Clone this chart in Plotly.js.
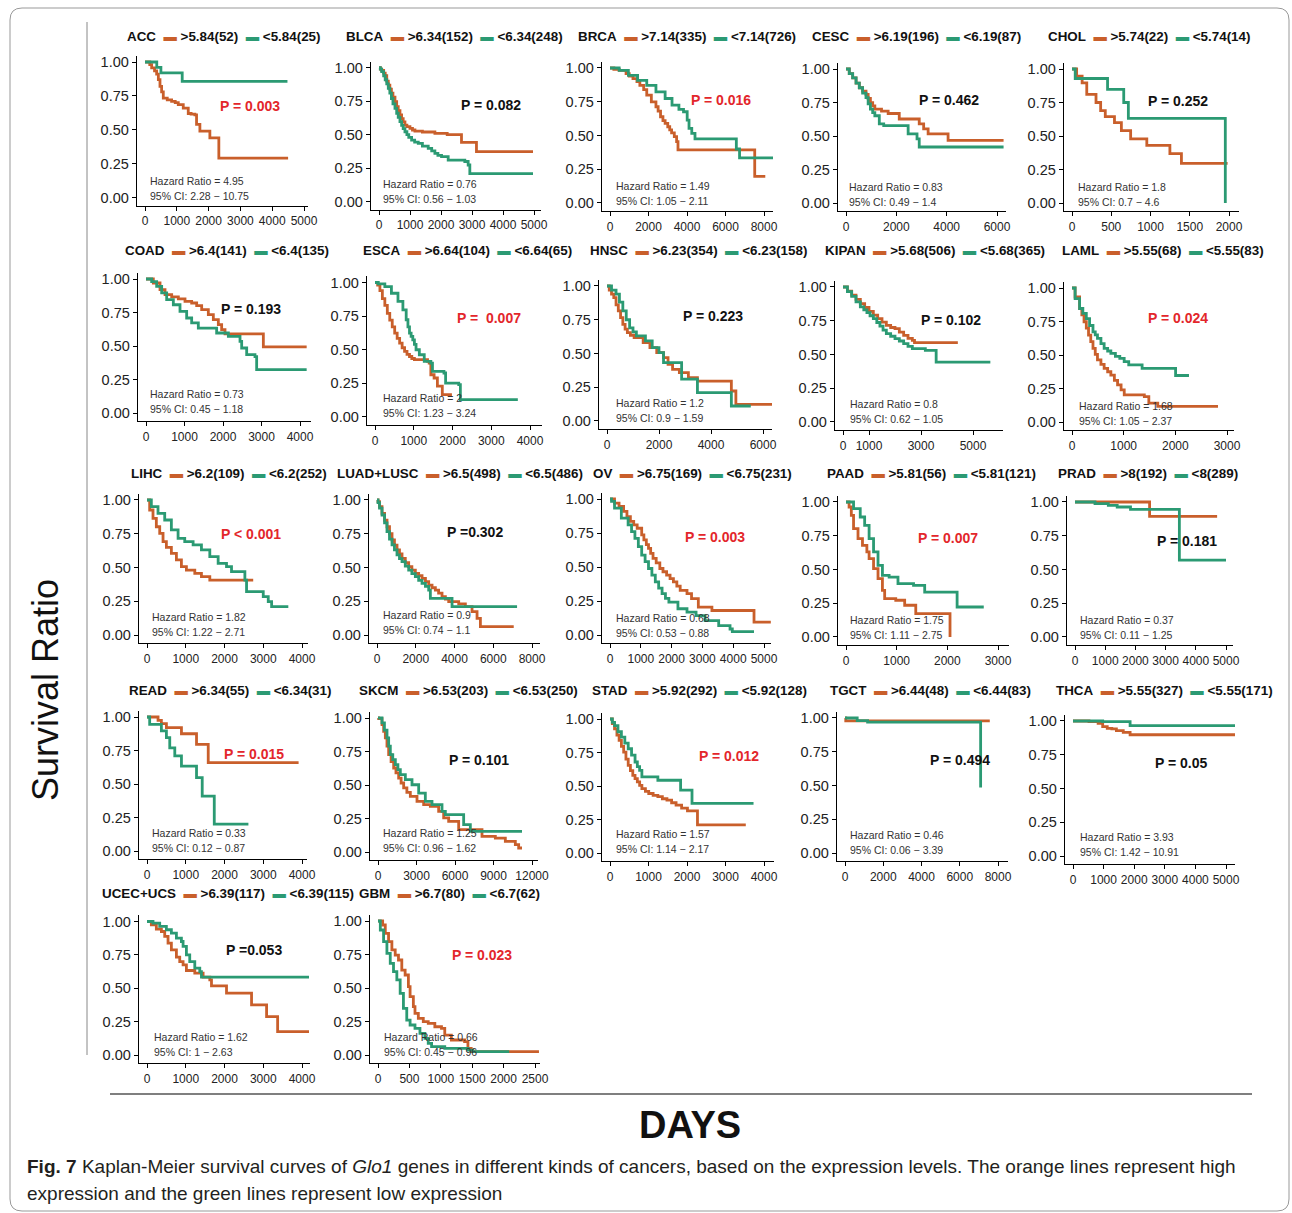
<!DOCTYPE html>
<html><head><meta charset="utf-8">
<script src="https://cdn.plot.ly/plotly-3.0.1.min.js"></script>
<style>html,body{margin:0;padding:0;background:#fff}#chart{width:1292px;height:1213px}</style>
</head><body><div id="chart"></div>
<script>
// ---------------- DATA ----------------
const cancers = ['ACC','BLCA','BRCA','CESC','CHOL','COAD','ESCA','HNSC','KIPAN','LAML','LIHC','LUAD+LUSC','OV','PAAD','PRAD','READ','SKCM','STAD','TGCT','THCA','UCEC+UCS','GBM'];
const cutoffs = ['5.84','6.34','7.14','6.19','5.74','6.4','6.64','6.23','5.68','5.55','6.2','6.5','6.75','5.81','8','6.34','6.53','5.92','6.44','5.55','6.39','6.7'];
const nHigh = [52,152,335,196,22,141,104,354,506,68,109,498,169,56,192,55,203,292,48,327,117,80];
const nLow  = [25,248,726,87,14,135,65,158,365,83,252,486,231,121,289,31,250,128,83,171,115,62];
const pText = ['P = 0.003','P = 0.082','P = 0.016','P = 0.462','P = 0.252','P = 0.193','P =  0.007','P = 0.223','P = 0.102','P = 0.024','P < 0.001','P =0.302','P = 0.003','P = 0.007','P = 0.181','P = 0.015','P = 0.101','P = 0.012','P = 0.494','P = 0.05','P =0.053','P = 0.023'];
const pSignificant = [true,false,true,false,false,false,true,false,false,true,true,false,true,true,false,true,false,true,false,false,false,true];
const hazardRatio = ['4.95','0.76','1.49','0.83','1.8','0.73','2','1.2','0.8','1.68','1.82','0.9','0.68','1.75','0.37','0.33','1.25','1.57','0.46','3.93','1.62','0.66'];
const ciLow  = ['2.28','0.56','1.05','0.49','0.7','0.45','1.23','0.9','0.62','1.05','1.22','0.74','0.53','1.11','0.11','0.12','0.96','1.14','0.06','1.42','1','0.45'];
const ciHigh = ['10.75','1.03','2.11','1.4','4.6','1.18','3.24','1.59','1.05','2.37','2.71','1.1','0.88','2.75','1.25','0.87','1.62','2.17','3.39','10.91','2.63','0.96'];
const xTicks = [
 [0,1000,2000,3000,4000,5000],[0,1000,2000,3000,4000,5000],[0,2000,4000,6000,8000],[0,2000,4000,6000],[0,500,1000,1500,2000],
 [0,1000,2000,3000,4000],[0,1000,2000,3000,4000],[0,2000,4000,6000],[0,1000,3000,5000],[0,1000,2000,3000],
 [0,1000,2000,3000,4000],[0,2000,4000,6000,8000],[0,1000,2000,3000,4000,5000],[0,1000,2000,3000],[0,1000,2000,3000,4000,5000],
 [0,1000,2000,3000,4000],[0,3000,6000,9000,12000],[0,1000,2000,3000,4000],[0,2000,4000,6000,8000],[0,1000,2000,3000,4000,5000],
 [0,1000,2000,3000,4000],[0,500,1000,1500,2000,2500]];
const yTicks = [0,0.25,0.5,0.75,1];
const yTickText = ['0.00','0.25','0.50','0.75','1.00'];

// survival curves: time (days) and survival ratio; hi = orange (high), lo = green (low)
const ACC_hi_t=[0,150,209,300,366,420,471,523,575,700,837,950,1046,1203,1360,1450,1569,1621,1726,2040,2322,4500];
const ACC_hi_s=[1,0.98,0.956,0.935,0.91,0.87,0.82,0.78,0.734,0.72,0.709,0.70,0.685,0.66,0.62,0.615,0.61,0.54,0.49,0.44,0.29,0.29];
const ACC_lo_t=[0,370,500,1170,4480];
const ACC_lo_s=[1,0.96,0.92,0.857,0.857];
const BLCA_hi_t=[0,43,86,150,200,250,300,350,400,450,515,570,620,676,730,780,837,900,998,1080,1159,1400,1803,2200,2661,3144,4968];
const BLCA_hi_s=[1,0.99,0.98,0.96,0.94,0.90,0.87,0.84,0.81,0.78,0.746,0.71,0.68,0.647,0.62,0.595,0.572,0.56,0.547,0.535,0.527,0.52,0.51,0.50,0.443,0.373,0.373];
const BLCA_lo_t=[0,43,86,150,200,250,300,350,400,450,515,570,620,676,730,780,837,900,960,1052,1150,1266,1400,1588,1700,1803,1900,2017,2232,2768,2876,2930,4968];
const BLCA_lo_s=[1,0.99,0.97,0.94,0.91,0.88,0.846,0.81,0.77,0.73,0.697,0.66,0.63,0.597,0.57,0.545,0.522,0.50,0.48,0.46,0.445,0.435,0.415,0.398,0.38,0.36,0.345,0.336,0.311,0.30,0.274,0.21,0.21];
const BRCA_hi_t=[0,200,477,835,1000,1193,1400,1551,1750,1909,2148,2387,2500,2625,2750,2864,3000,3103,3200,3341,3461,3532,7518,8067];
const BRCA_hi_s=[1,0.99,0.983,0.958,0.94,0.921,0.90,0.872,0.84,0.799,0.749,0.713,0.68,0.639,0.61,0.59,0.565,0.541,0.52,0.491,0.455,0.393,0.197,0.197];
const BRCA_lo_t=[0,477,955,1432,1909,2387,2864,3222,3580,3819,4010,4105,4248,4415,6563,6730,8472];
const BRCA_lo_s=[1,0.983,0.946,0.909,0.872,0.823,0.774,0.725,0.693,0.676,0.614,0.553,0.516,0.475,0.40,0.335,0.335];
const CESC_hi_t=[0,130,265,400,529,660,794,880,970,1060,1146,1411,1675,2116,2910,3086,3263,4056,6261];
const CESC_hi_s=[1,0.965,0.934,0.895,0.86,0.835,0.81,0.78,0.749,0.725,0.70,0.685,0.668,0.627,0.59,0.553,0.516,0.467,0.467];
const CESC_lo_t=[0,130,265,400,529,660,794,880,970,1060,1146,1323,1499,2469,2822,2910,6261];
const CESC_lo_s=[1,0.965,0.934,0.895,0.86,0.82,0.786,0.74,0.70,0.675,0.651,0.59,0.577,0.516,0.479,0.418,0.418];
const CHOL_hi_t=[0,59,129,188,306,365,424,541,629,747,953,1247,1394,1982];
const CHOL_hi_s=[1,0.946,0.897,0.81,0.75,0.69,0.644,0.60,0.54,0.479,0.43,0.369,0.295,0.295];
const CHOL_lo_t=[0,41,453,659,718,1953];
const CHOL_lo_s=[1,0.929,0.848,0.75,0.631,0];
const COAD_hi_t=[0,190,364,494,667,840,1013,1186,1316,1446,1619,1749,1879,1965,2052,3048,4173];
const COAD_hi_s=[1,0.97,0.92,0.883,0.866,0.851,0.833,0.821,0.801,0.771,0.734,0.697,0.659,0.622,0.59,0.493,0.493];
const COAD_lo_t=[0,147,277,407,537,710,883,1056,1186,1359,1835,2139,2442,2485,2615,2831,2874,4173];
const COAD_lo_s=[1,0.98,0.945,0.896,0.846,0.808,0.759,0.709,0.672,0.634,0.597,0.572,0.535,0.485,0.435,0.42,0.323,0.323];
const ESCA_hi_t=[0,68,127,190,254,318,381,445,508,572,636,700,763,826,890,950,1017,1356,1398,1441,1525,1610,1737,1949];
const ESCA_hi_s=[1,0.98,0.94,0.88,0.83,0.77,0.72,0.67,0.624,0.585,0.55,0.515,0.488,0.465,0.45,0.435,0.426,0.413,0.40,0.314,0.29,0.23,0.166,0.153];
const ESCA_lo_t=[0,85,254,424,593,720,805,850,890,932,975,1017,1059,1144,1271,1441,1483,1780,1822,2161,2203,3686];
const ESCA_lo_s=[1,0.99,0.97,0.92,0.859,0.797,0.723,0.67,0.624,0.60,0.574,0.54,0.50,0.463,0.413,0.40,0.339,0.327,0.252,0.24,0.129,0.129];
const HNSC_hi_t=[0,87,174,261,348,435,522,609,696,783,900,1043,1391,1652,1913,2174,2348,2522,2783,3130,3478,4783,4957,6348];
const HNSC_hi_s=[1,0.97,0.94,0.914,0.86,0.815,0.765,0.716,0.68,0.654,0.635,0.617,0.58,0.543,0.506,0.469,0.42,0.383,0.358,0.321,0.296,0.222,0.123,0.123];
const HNSC_lo_t=[0,174,348,478,609,740,870,1000,1130,1478,1739,2000,2174,2870,3478,4783,5530];
const HNSC_lo_s=[1,0.97,0.94,0.88,0.815,0.75,0.69,0.66,0.63,0.593,0.543,0.506,0.432,0.31,0.21,0.111,0.111];
const KIPAN_hi_t=[0,170,333,500,667,833,1000,1167,1333,1500,1667,1833,2000,2167,2333,2500,2667,2750,4417];
const KIPAN_hi_s=[1,0.97,0.94,0.908,0.877,0.848,0.82,0.792,0.765,0.74,0.716,0.70,0.691,0.665,0.642,0.62,0.605,0.588,0.588];
const KIPAN_lo_t=[0,170,333,500,667,800,920,1040,1167,1300,1420,1540,1667,1833,2000,2167,2333,2500,2667,3167,3583,5667];
const KIPAN_lo_s=[1,0.965,0.93,0.89,0.852,0.83,0.81,0.787,0.765,0.737,0.71,0.68,0.654,0.635,0.617,0.60,0.58,0.56,0.543,0.531,0.444,0.444];
const LAML_hi_t=[0,60,147,190,233,277,320,363,406,450,493,560,622,690,752,820,882,950,1011,1400,1487,1660,2826];
const LAML_hi_s=[1,0.933,0.847,0.80,0.748,0.70,0.649,0.60,0.55,0.505,0.463,0.43,0.40,0.375,0.35,0.31,0.277,0.24,0.203,0.19,0.141,0.116,0.116];
const LAML_lo_t=[0,60,147,210,277,340,406,450,493,560,622,690,752,840,925,1010,1098,1357,2005,2264];
const LAML_lo_s=[1,0.92,0.847,0.81,0.772,0.72,0.673,0.65,0.624,0.585,0.55,0.53,0.512,0.49,0.475,0.45,0.426,0.40,0.347,0.347];
const LIHC_hi_t=[0,69,155,241,328,414,500,629,759,888,1017,1233,1405,1621,2741];
const LIHC_hi_s=[1,0.926,0.864,0.802,0.753,0.691,0.649,0.605,0.556,0.506,0.481,0.457,0.432,0.407,0.407];
const LIHC_lo_t=[0,112,284,457,629,802,974,1190,1405,1621,1836,2052,2181,2526,2569,3000,3129,3216,3647];
const LIHC_lo_s=[1,0.951,0.901,0.852,0.778,0.716,0.691,0.667,0.63,0.58,0.531,0.506,0.469,0.407,0.321,0.284,0.247,0.21,0.21];
const LUAD_hi_t=[0,52,130,258,390,516,645,775,900,1033,1160,1291,1460,1635,1800,1979,2150,2324,2500,2668,2840,3012,3180,3356,3530,3701,4217,4561,4905,5164,5336,7057];
const LUAD_hi_s=[1,0.988,0.95,0.901,0.85,0.802,0.75,0.704,0.665,0.63,0.60,0.568,0.535,0.506,0.48,0.457,0.44,0.42,0.395,0.37,0.35,0.333,0.31,0.284,0.265,0.247,0.23,0.21,0.173,0.123,0.062,0.062];
const LUAD_lo_t=[0,52,130,258,390,516,645,775,900,1033,1160,1291,1460,1635,1800,1979,2150,2324,2500,2668,2754,3873,7229];
const LUAD_lo_s=[1,0.98,0.94,0.889,0.83,0.765,0.71,0.667,0.63,0.593,0.565,0.543,0.51,0.481,0.455,0.432,0.405,0.383,0.36,0.333,0.272,0.21,0.21];
const OV_hi_t=[0,147,294,441,550,662,770,882,1029,1100,1180,1250,1320,1397,1500,1618,1720,1838,1950,2059,2170,2279,2500,2647,2868,3309,4676,5221];
const OV_hi_s=[1,0.97,0.946,0.909,0.87,0.835,0.81,0.785,0.736,0.70,0.665,0.637,0.60,0.563,0.53,0.489,0.465,0.44,0.415,0.39,0.36,0.328,0.304,0.267,0.205,0.18,0.094,0.094];
const OV_lo_t=[0,50,147,368,588,700,809,920,1029,1140,1250,1360,1471,1580,1691,1800,1912,2206,2500,2794,3088,3529,3897,3971,4676];
const OV_lo_s=[1,0.983,0.933,0.859,0.81,0.76,0.711,0.65,0.588,0.54,0.489,0.44,0.39,0.345,0.304,0.27,0.242,0.193,0.168,0.143,0.106,0.069,0.044,0.025,0.025];
const PAAD_hi_t=[0,61,105,149,237,325,412,456,544,632,719,763,982,1158,1377,2053];
const PAAD_hi_s=[1,0.963,0.901,0.802,0.728,0.679,0.63,0.58,0.506,0.432,0.346,0.284,0.272,0.235,0.173,0];
const PAAD_lo_t=[0,149,281,368,456,544,632,719,851,1026,1333,1553,2193,2719];
const PAAD_lo_s=[1,0.951,0.889,0.827,0.728,0.63,0.531,0.457,0.444,0.395,0.383,0.333,0.222,0.222];
const PRAD_hi_t=[0,2470,4706];
const PRAD_hi_s=[1,0.893,0.893];
const PRAD_lo_t=[0,662,1103,1397,1838,3456,5000];
const PRAD_lo_s=[1,0.988,0.975,0.963,0.946,0.57,0.57];
const READ_hi_t=[0,285,371,501,889,1278,1580,3912];
const READ_hi_s=[1,0.975,0.95,0.92,0.875,0.796,0.66,0.66];
const READ_lo_t=[0,69,371,501,587,717,889,1278,1425,1736,2617];
const READ_lo_s=[1,0.945,0.896,0.846,0.77,0.71,0.634,0.547,0.41,0.20,0.20];
const SKCM_hi_t=[0,52,312,440,571,700,831,1020,1221,1400,1610,1800,2000,2250,2519,3039,3558,4078,4727,5117,5506,6286,7325,8104,9143,9922,10701,10961,11221];
const SKCM_hi_s=[1,0.995,0.95,0.90,0.851,0.79,0.726,0.675,0.627,0.59,0.552,0.515,0.478,0.445,0.415,0.378,0.353,0.341,0.303,0.254,0.229,0.167,0.167,0.117,0.104,0.08,0.055,0.03,0.03];
const SKCM_lo_t=[0,312,500,701,831,961,1150,1351,1550,1740,2130,2649,3169,3688,4208,4987,5247,6675,7195,11221];
const SKCM_lo_s=[1,0.963,0.91,0.851,0.79,0.726,0.69,0.652,0.615,0.577,0.54,0.502,0.44,0.378,0.353,0.303,0.279,0.204,0.154,0.154];
const STAD_hi_t=[0,60,118,180,237,296,355,414,473,530,592,650,710,770,828,920,1006,1120,1243,1360,1479,1600,1716,1860,2012,2272,3527];
const STAD_hi_s=[1,0.965,0.926,0.88,0.84,0.795,0.753,0.70,0.654,0.615,0.58,0.555,0.531,0.505,0.481,0.46,0.444,0.43,0.42,0.405,0.395,0.375,0.358,0.335,0.314,0.21,0.21];
const STAD_lo_t=[0,60,118,207,296,385,473,560,651,710,769,828,1243,1834,2130,3728];
const STAD_lo_s=[1,0.975,0.951,0.905,0.864,0.82,0.778,0.73,0.679,0.645,0.617,0.568,0.543,0.469,0.37,0.37];
const TGCT_hi_t=[0,40,7570];
const TGCT_hi_s=[1,0.979,0.979];
const TGCT_lo_t=[0,638,1182,7092];
const TGCT_lo_s=[1,0.98,0.97,0.485];
const THCA_hi_t=[0,522,821,970,1119,1269,1418,1642,1866,5299];
const THCA_hi_s=[1,0.995,0.983,0.958,0.946,0.941,0.929,0.916,0.898,0.898];
const THCA_lo_t=[0,970,1866,5299];
const THCA_lo_s=[1,0.995,0.966,0.966];
const UCEC_hi_t=[0,112,241,371,457,543,629,759,845,931,1017,1233,1448,1621,1664,2052,2698,3086,3371,4181];
const UCEC_hi_s=[1,0.975,0.943,0.925,0.888,0.838,0.788,0.733,0.70,0.675,0.633,0.613,0.583,0.563,0.518,0.463,0.375,0.288,0.175,0.175];
const UCEC_lo_t=[0,155,328,500,629,759,888,931,1017,1103,1233,1362,1405,4181];
const UCEC_lo_s=[1,0.988,0.963,0.938,0.913,0.875,0.85,0.813,0.75,0.70,0.65,0.625,0.583,0.583];
const GBM_hi_t=[0,74,116,168,221,274,326,379,432,484,511,563,589,642,721,800,905,1011,1063,1168,1379,1432,1484,2563];
const GBM_hi_s=[1,0.97,0.908,0.846,0.784,0.746,0.709,0.634,0.597,0.51,0.435,0.361,0.311,0.274,0.249,0.236,0.211,0.199,0.149,0.112,0.10,0.05,0.025,0.025];
const GBM_lo_t=[0,37,89,142,195,247,300,353,405,458,511,589,668,747,800,853,1063,1432,1511,2089];
const GBM_lo_s=[1,0.933,0.846,0.759,0.684,0.622,0.56,0.46,0.348,0.261,0.224,0.199,0.162,0.124,0.087,0.062,0.05,0.037,0.025,0.025];

const curves = [
 [ACC_hi_t,ACC_hi_s,ACC_lo_t,ACC_lo_s],[BLCA_hi_t,BLCA_hi_s,BLCA_lo_t,BLCA_lo_s],[BRCA_hi_t,BRCA_hi_s,BRCA_lo_t,BRCA_lo_s],
 [CESC_hi_t,CESC_hi_s,CESC_lo_t,CESC_lo_s],[CHOL_hi_t,CHOL_hi_s,CHOL_lo_t,CHOL_lo_s],[COAD_hi_t,COAD_hi_s,COAD_lo_t,COAD_lo_s],
 [ESCA_hi_t,ESCA_hi_s,ESCA_lo_t,ESCA_lo_s],[HNSC_hi_t,HNSC_hi_s,HNSC_lo_t,HNSC_lo_s],[KIPAN_hi_t,KIPAN_hi_s,KIPAN_lo_t,KIPAN_lo_s],
 [LAML_hi_t,LAML_hi_s,LAML_lo_t,LAML_lo_s],[LIHC_hi_t,LIHC_hi_s,LIHC_lo_t,LIHC_lo_s],[LUAD_hi_t,LUAD_hi_s,LUAD_lo_t,LUAD_lo_s],
 [OV_hi_t,OV_hi_s,OV_lo_t,OV_lo_s],[PAAD_hi_t,PAAD_hi_s,PAAD_lo_t,PAAD_lo_s],[PRAD_hi_t,PRAD_hi_s,PRAD_lo_t,PRAD_lo_s],
 [READ_hi_t,READ_hi_s,READ_lo_t,READ_lo_s],[SKCM_hi_t,SKCM_hi_s,SKCM_lo_t,SKCM_lo_s],[STAD_hi_t,STAD_hi_s,STAD_lo_t,STAD_lo_s],
 [TGCT_hi_t,TGCT_hi_s,TGCT_lo_t,TGCT_lo_s],[THCA_hi_t,THCA_hi_s,THCA_lo_t,THCA_lo_s],[UCEC_hi_t,UCEC_hi_s,UCEC_lo_t,UCEC_lo_s],
 [GBM_hi_t,GBM_hi_s,GBM_lo_t,GBM_lo_s]];

// ---------------- LAYOUT GEOMETRY (pixels) ----------------
// [pixel of x=0, tick value, pixel of that tick, right end of x axis, pixel of y=1, pixel of y=0]
const geom = [
 [145,5000,304,308,62,197.5],[379,5000,534,541,67.7,201.7],[610,8000,764,773,68,203],[846,6000,997,1006,69,203],[1072,2000,1229,1239,69,203],
 [146,4000,300,311,279,413],[375,4000,530,542,282.5,417],[607,6000,763,772,286,421],[843,5000,973,1003,287,422],[1072,3000,1227,1234,288,422],
 [147,4000,302,308,500,635],[377,8000,532,540,500,635],[610,5000,764,771,499,635],[846,3000,998,1009,502,637],[1075,5000,1226,1233,502,637],
 [147,4000,302,307,717,851],[378,12000,532,538,718,852],[610,4000,764,774,719,853],[845,8000,998,1008,718,853],[1073,5000,1226,1235,721,856],
 [147,4000,302,310,921.5,1055],[378,2500,535,540,921,1055]];
const titlePos = [[125,37],[344,37],[576,37],[810,37],[1046,37],[123,251],[361,251],[588,251],[823,251],[1060,251],
 [129,473],[335,473],[591,473],[825,473],[1056,473],[127,690],[357,690],[590,690],[828,690],[1054,690],[100,893],[357,893]];
const pPos = [[250,106],[491,105],[721,100],[949,100],[1178,101],[251,309],[489,318],[713,316],[951,320],[1178,318],
 [251,534],[475,532],[715,537],[948,538],[1187,541],[254,754],[479,760],[729,756],[960,760],[1181,763],[254,950],[482,955]];
const hrPos = [[148,181],[381,184],[614,186],[847,187],[1076,187],[148,394],[381,398],[614,403],[848,404],[1077,406],
 [150,617],[381,615],[614,618],[848,620],[1078,620],[150,833],[381,833],[614,834],[848,835],[1078,837],[152,1037],[382,1037]];

const W=1292,H=1213;
const fx=x=>x/W, fy=y=>1-y/H;
const ORANGE='#c95f2b', GREEN='#2b9a73', RED='#e3262b';
const FONT='Liberation Sans, Arial, sans-serif';

const traces=[], annotations=[], shapes=[];
const layout={width:W,height:H,margin:{l:0,r:0,t:0,b:0},paper_bgcolor:'#fff',plot_bgcolor:'rgba(0,0,0,0)',showlegend:false,font:{family:FONT,color:'#111'}};

cancers.forEach((name,i)=>{
  const n=i+1, sfx=n===1?'':String(n);
  const [p0,k,pk,right,py1,py0]=geom[i];
  const s=(pk-p0)/k, left=p0-8;
  const span=py0-py1;
  layout['xaxis'+sfx]={domain:[fx(left),fx(right)],range:[(left-p0)/s,(right-p0)/s],anchor:'y'+sfx,
    showline:true,linecolor:'#000',linewidth:1.3,ticks:'outside',ticklen:4,tickwidth:1,tickcolor:'#000',
    tickvals:xTicks[i],ticktext:xTicks[i].map(String),tickfont:{family:FONT,size:12,color:'#222'},showgrid:false,zeroline:false,fixedrange:true};
  layout['yaxis'+sfx]={domain:[fy(py0+0.06*span),fy(py1-0.045*span)],range:[-0.06,1.045],anchor:'x'+sfx,
    showline:true,linecolor:'#000',linewidth:1.3,ticks:'outside',ticklen:4,tickwidth:1,tickcolor:'#000',
    tickvals:yTicks,ticktext:yTickText,tickfont:{family:FONT,size:14.5,color:'#222'},showgrid:false,zeroline:false,fixedrange:true};
  const c=curves[i];
  traces.push({x:c[0],y:c[1],type:'scatter',mode:'lines',line:{shape:'hv',color:ORANGE,width:2.8},xaxis:'x'+sfx,yaxis:'y'+sfx,hoverinfo:'skip',cliponaxis:false});
  traces.push({x:c[2],y:c[3],type:'scatter',mode:'lines',line:{shape:'hv',color:GREEN,width:2.8},xaxis:'x'+sfx,yaxis:'y'+sfx,hoverinfo:'skip',cliponaxis:false});
  const nb='\u00a0';
  annotations.push({xref:'paper',yref:'paper',x:fx(titlePos[i][0]),y:fy(titlePos[i][1]),xanchor:'left',yanchor:'middle',showarrow:false,
    text:`<b>${name}${nb}${nb}<span style="color:${ORANGE}">▬</span>${nb}&gt;${cutoffs[i]}(${nHigh[i]})${nb}${nb}<span style="color:${GREEN}">▬</span>${nb}&lt;${cutoffs[i]}(${nLow[i]})</b>`,
    font:{family:FONT,size:13.4,color:'#111'}});
  annotations.push({xref:'paper',yref:'paper',x:fx(pPos[i][0]),y:fy(pPos[i][1]),xanchor:'center',yanchor:'middle',showarrow:false,
    text:'<b>'+pText[i].replace('<','&lt;').replace(/ {2}/g,' '+nb)+'</b>',font:{family:FONT,size:14,color:pSignificant[i]?RED:'#111'}});
  annotations.push({xref:'paper',yref:'paper',x:fx(hrPos[i][0]),y:fy(hrPos[i][1]),xanchor:'left',yanchor:'middle',showarrow:false,
    text:'Hazard Ratio = '+hazardRatio[i],font:{family:FONT,size:10.5,color:'#333'}});
  annotations.push({xref:'paper',yref:'paper',x:fx(hrPos[i][0]),y:fy(hrPos[i][1]+15),xanchor:'left',yanchor:'middle',showarrow:false,
    text:'95% CI: '+ciLow[i]+' \u2212 '+ciHigh[i],font:{family:FONT,size:10.5,color:'#333'}});
});

annotations.push({xref:'paper',yref:'paper',x:fx(45),y:fy(690),textangle:-90,showarrow:false,xanchor:'center',yanchor:'middle',
  text:'Survival Ratio',font:{family:FONT,size:36,color:'#111'}});
annotations.push({xref:'paper',yref:'paper',x:fx(690),y:fy(1125),showarrow:false,xanchor:'center',yanchor:'middle',
  text:'<b>DAYS</b>',font:{family:FONT,size:38,color:'#111'}});
annotations.push({xref:'paper',yref:'paper',x:fx(25),y:fy(1166),showarrow:false,xanchor:'left',yanchor:'middle',
  text:'<b>Fig. 7</b> Kaplan-Meier survival curves of <i>Glo1</i> genes in different kinds of cancers, based on the expression levels. The orange lines represent high',
  font:{family:FONT,size:19,color:'#231f20'}});
annotations.push({xref:'paper',yref:'paper',x:fx(25),y:fy(1193),showarrow:false,xanchor:'left',yanchor:'middle',
  text:'expression and the green lines represent low expression',
  font:{family:FONT,size:19,color:'#231f20'}});

shapes.push({type:'line',xref:'paper',yref:'paper',x0:fx(87),x1:fx(87),y0:fy(22),y1:fy(1055),line:{color:'#888',width:1}});
shapes.push({type:'line',xref:'paper',yref:'paper',x0:fx(110),x1:fx(1252),y0:fy(1094),y1:fy(1094),line:{color:'#555',width:1.3}});
// rounded frame
const L=10,T=8,R=1289,B=1211,r=12;
const P=(x,y)=>fx(x)+','+fy(y);
shapes.push({type:'path',xref:'paper',yref:'paper',line:{color:'#999',width:1},
  path:`M${P(L+r,T)} L${P(R-r,T)} Q${P(R,T)} ${P(R,T+r)} L${P(R,B-r)} Q${P(R,B)} ${P(R-r,B)} L${P(L+r,B)} Q${P(L,B)} ${P(L,B-r)} L${P(L,T+r)} Q${P(L,T)} ${P(L+r,T)} Z`});

layout.annotations=annotations;
layout.shapes=shapes;
Plotly.newPlot('chart',traces,layout,{staticPlot:true,displayModeBar:false});
</script></body></html>
